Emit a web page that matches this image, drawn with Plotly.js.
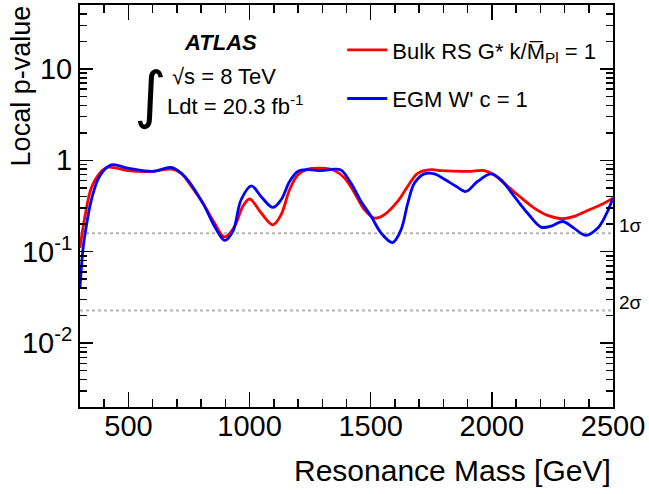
<!DOCTYPE html>
<html>
<head>
<meta charset="utf-8">
<script src="https://cdn.plot.ly/plotly-3.0.1.min.js"></script>
<style>html,body{margin:0;padding:0;background:#fff;}#chart{width:649px;height:494px;}</style>
</head>
<body>
<div id="chart"></div>
<script>
// Data
const massRS = [300,320,347,381,415,450,498,594,677,718,759,807,855,897,938,972,1000,1048,1096,1130,1165,1199,1240,1295,1350,1392,1433,1474,1515,1556,1611,1653,1694,1749,1790,1900,1969,2010,2051,2106,2175,2230,2292,2340,2395,2450,2500];
const pRS    = [0.11,0.24,0.50,0.72,0.84,0.82,0.77,0.755,0.80,0.72,0.52,0.34,0.206,0.145,0.189,0.313,0.377,0.265,0.197,0.254,0.476,0.69,0.80,0.82,0.775,0.64,0.44,0.288,0.233,0.254,0.355,0.52,0.72,0.79,0.77,0.755,0.77,0.69,0.56,0.42,0.30,0.25,0.23,0.243,0.283,0.326,0.386];
const massW  = [300,312,326,347,381,429,498,601,677,732,807,855,897,931,965,1007,1048,1096,1130,1165,1199,1240,1295,1350,1378,1419,1460,1502,1543,1590,1625,1653,1680,1721,1763,1804,1852,1893,1941,1997,2038,2093,2147,2203,2244,2292,2340,2388,2436,2471,2500];
const pW     = [0.040,0.105,0.19,0.37,0.67,0.89,0.82,0.755,0.835,0.665,0.34,0.19,0.133,0.167,0.37,0.526,0.40,0.305,0.37,0.587,0.755,0.79,0.77,0.80,0.78,0.56,0.355,0.243,0.16,0.126,0.174,0.34,0.56,0.71,0.71,0.62,0.52,0.456,0.587,0.71,0.61,0.40,0.265,0.186,0.19,0.214,0.18,0.151,0.18,0.254,0.386];
const sigmaP = [0.1587, 0.02275];
const sigmaLabels = ['1σ','2σ'];
const xRange = [300, 2500];
const yTickVals = [0.01, 0.1, 1, 10];
const yTickText = ['10<sup>-2</sup>','10<sup>-1</sup>','1','10'];
const seriesNames = ['Bulk RS G* k/M\u0305<sub>Pl</sub> = 1', "EGM W' c = 1"];

const FONT = 'Liberation Sans, Arial, Helvetica, sans-serif';

const yMinor = [];
for (let d = -3; d <= 1; d++) for (let k = 2; k <= 9; k++) yMinor.push(k * Math.pow(10, d));

const traces = [];
sigmaP.forEach(p => traces.push({
  x: xRange, y: [p, p], mode: 'lines', showlegend: false, hoverinfo: 'skip',
  line: {color: '#b4b4b4', width: 2, dash: 'dot'}
}));
traces.push({x: massRS, y: pRS, mode: 'lines', name: seriesNames[0], legendgroup: 'a',
  line: {color: '#ff0000', width: 2.8, shape: 'spline', smoothing: 1}});
traces.push({x: massW, y: pW, mode: 'lines', name: seriesNames[1], legendgroup: 'b',
  line: {color: '#0000ff', width: 2.8, shape: 'spline', smoothing: 1}});

const annotations = [
  {xref:'paper', yref:'paper', x:0.2645, y:0.9055, text:'<b><i>ATLAS</i></b>', showarrow:false, xanchor:'center', yanchor:'middle', font:{family:FONT, size:22, color:'#000'}},
  {xref:'paper', yref:'paper', x:0.1689, y:0.821, text:'√s = 8 TeV', showarrow:false, xanchor:'left', yanchor:'middle', font:{family:FONT, size:22, color:'#000'}},
  {xref:'paper', yref:'paper', x:0.1595, y:0.752, text:'Ldt = 20.3 fb<sup>-1</sup>', showarrow:false, xanchor:'left', yanchor:'middle', font:{family:FONT, size:22, color:'#000'}},
  {xref:'paper', yref:'paper', x:0.1313, y:0.777, text:'∫', showarrow:false, xanchor:'center', yanchor:'middle', font:{family:'DejaVu Sans, sans-serif', size:62, color:'#000'}},
  {xref:'paper', yref:'paper', x:1.0, y:-0.157, text:'Resonance Mass [GeV]', showarrow:false, xanchor:'right', yanchor:'middle', font:{family:FONT, size:30, color:'#000'}},
  {xref:'paper', yref:'paper', x:-0.109, y:1.005, text:'Local p-value', textangle:-90, showarrow:false, xanchor:'center', yanchor:'top', font:{family:FONT, size:27, color:'#000'}}
];
sigmaP.forEach((p, i) => annotations.push({
  xref:'paper', yref:'y', x:1.008, y:Math.log10(p), text:sigmaLabels[i], showarrow:false,
  xanchor:'left', yanchor:'middle', yshift:8, font:{family:FONT, size:19, color:'#000'}
}));

const layout = {
  width: 649, height: 494,
  margin: {l: 80, r: 36, t: 5, b: 87, pad: 0},
  paper_bgcolor: '#fff', plot_bgcolor: '#fff',
  font: {family: FONT, color: '#000'},
  showlegend: true,
  legend: {x: 0.492, y: 0.94, xanchor: 'left', yanchor: 'top', bgcolor: 'rgba(0,0,0,0)',
           font: {family: FONT, size: 22, color: '#000'}, tracegroupgap: 17, traceorder: 'grouped',
           itemwidth: 40},
  xaxis: {type: 'linear', range: xRange, showgrid: false, zeroline: false,
          showline: true, linecolor: '#000', linewidth: 2, mirror: 'allticks',
          ticks: 'inside', ticklen: 15, tickwidth: 1.5, tickcolor: '#000',
          tickmode: 'linear', tick0: 0, dtick: 500, ticklabelstandoff: -8,
          tickfont: {family: FONT, size: 29, color: '#000'},
          minor: {dtick: 100, ticklen: 8, tickwidth: 1.5, tickcolor: '#000', ticks: 'inside', showgrid: false},
          automargin: false},
  yaxis: {type: 'log', range: [Math.log10(0.002), Math.log10(50)], showgrid: false, zeroline: false,
          showline: true, linecolor: '#000', linewidth: 2, mirror: 'allticks',
          ticks: 'inside', ticklen: 13, tickwidth: 1.5, tickcolor: '#000',
          tickmode: 'array', tickvals: yTickVals, ticktext: yTickText,
          tickfont: {family: FONT, size: 29, color: '#000'},
          minor: {tickmode: 'array', tickvals: yMinor, ticklen: 7, tickwidth: 1.5, tickcolor: '#000', ticks: 'inside', showgrid: false},
          automargin: false},
  annotations: annotations
};

Plotly.newPlot('chart', traces, layout, {staticPlot: true, displayModeBar: false});
</script>
</body>
</html>
